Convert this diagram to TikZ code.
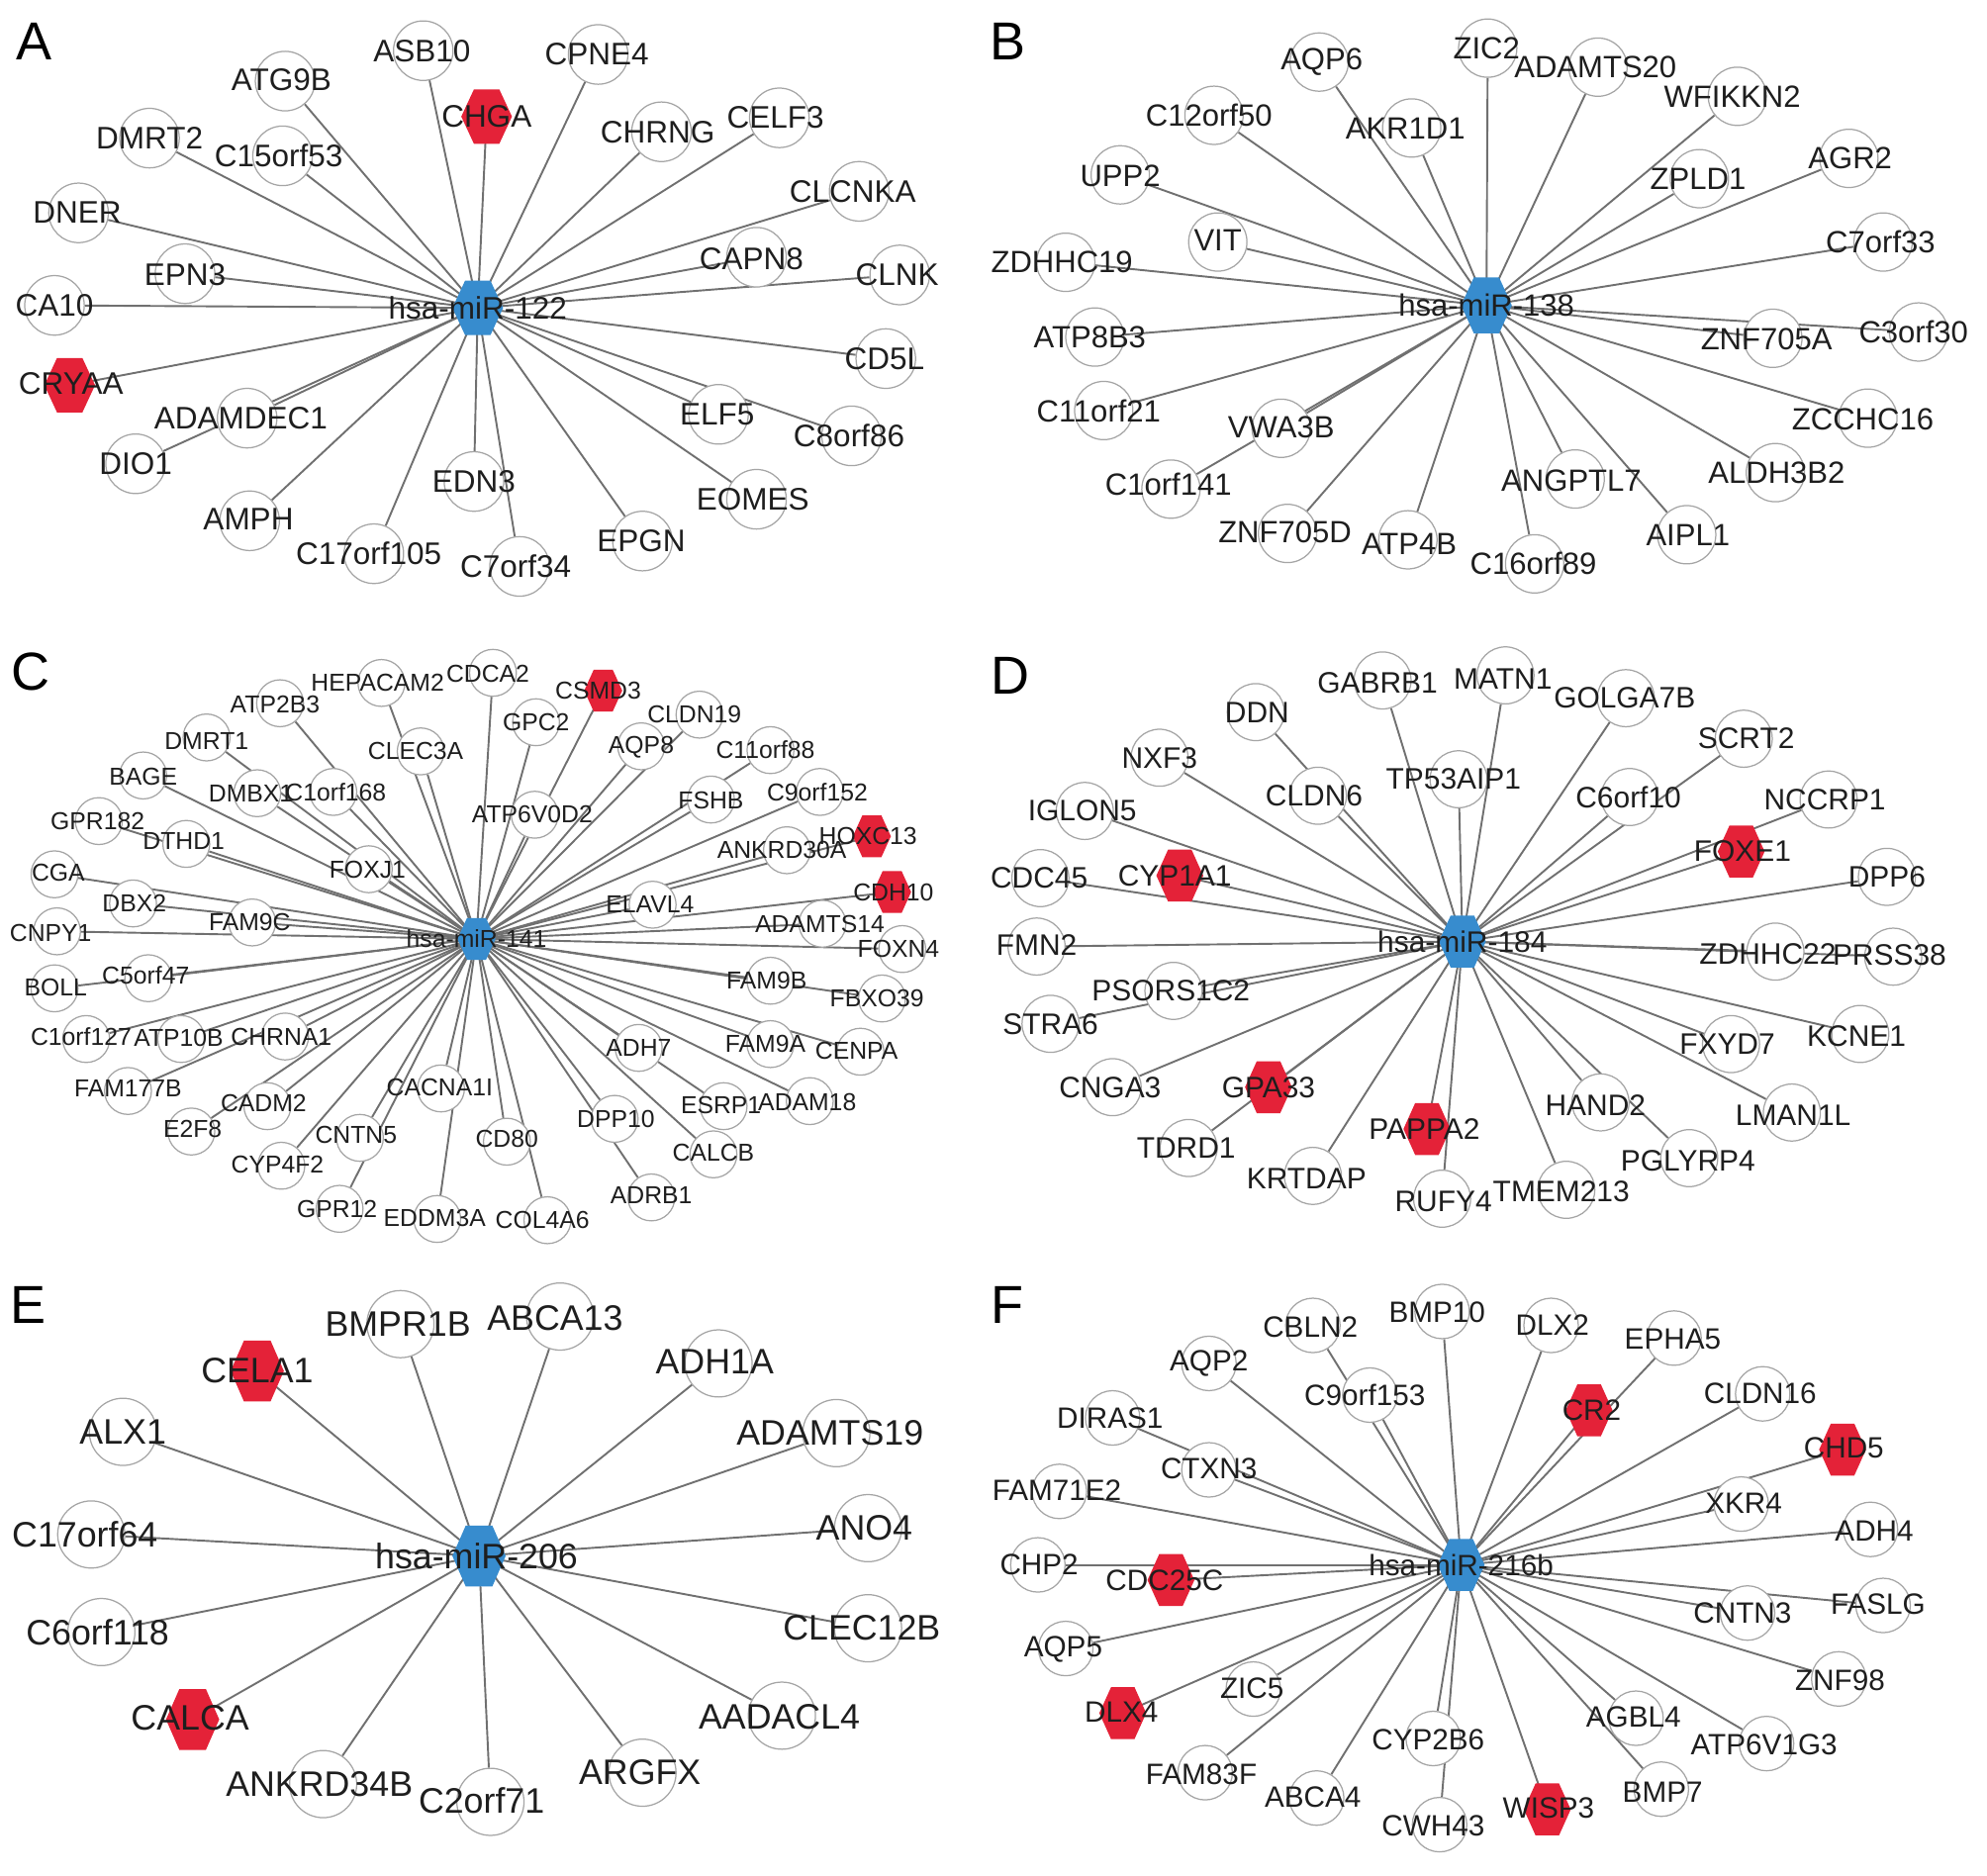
\documentclass[tikz,border=0pt]{standalone}
\usepackage{fontspec}
\setmainfont{Liberation Sans}
\pgfdeclarelayer{bg}
\pgfdeclarelayer{fg}
\pgfsetlayers{bg,main,fg}
\definecolor{hblue}{RGB}{55,140,206}
\definecolor{hred}{RGB}{228,34,56}
\definecolor{edgec}{RGB}{112,112,112}
\definecolor{ringc}{RGB}{165,165,165}
\definecolor{txtc}{RGB}{30,30,30}
\tikzset{
  gcirc/.style={circle, draw=ringc, fill=white, line width=0.55pt, inner sep=0pt},
  glab/.style={text=txtc, inner sep=0pt},
  edge/.style={draw=edgec, line width=0.85pt},
  plet/.style={font=\fontsize{24}{24}\selectfont, text=black, inner sep=0pt}
}
\newcommand\leaf[6]{%
  \node[gcirc] (#1) at (#2,#3) {};
  \begin{pgfonlayer}{fg}\node[glab] (#1-l) at (#4,#5) {#6};\end{pgfonlayer}}
\newcommand\hexat[7]{%
  \coordinate (#1) at (#2,#3);
  \fill[#7] (#1) ++(-\hw/2,0) -- ++(\hw/4,-\hh/2) -- ++(\hw/2,0) -- ++(\hw/4,\hh/2) -- ++(-\hw/4,\hh/2) -- ++(-\hw/2,0) -- cycle;
  \begin{pgfonlayer}{fg}\node[glab] (#1-l) at (#4,#5) {#6};\end{pgfonlayer}}
\begin{document}
\begin{tikzpicture}[x=0.02cm, y=-0.02cm]
\begin{pgfonlayer}{bg}
\fill[white] (0,0) rectangle (1568,1480);
\end{pgfonlayer}
\useasboundingbox (0,0) rectangle (1568,1480);
% panel letters
\node[plet] (LA) at (27,33) {A};
\node[plet] (LB) at (795,33) {B};
\node[plet] (LC) at (24,530) {C};
\node[plet] (LD) at (797,533) {D};
\node[plet] (LE) at (22,1030) {E};
\node[plet] (LF) at (795,1030) {F};
% ---------------- Panel A
\begin{scope}[gcirc/.append style={minimum size=0.94cm}, glab/.append style={font=\fontsize{14}{14}\selectfont}]
\def\hw{40}\def\hh{43}
\hexat{ac}{377}{243}{377}{243}{hsa-miR-122}{hblue}
\leaf{a1}{334}{40}{333}{40}{ASB10}
\leaf{a2}{472}{43}{471}{43}{CPNE4}
\leaf{a3}{225}{64}{222}{63}{ATG9B}
\hexat{a4}{384}{92}{384}{92}{CHGA}{hred}
\leaf{a5}{118}{109}{118}{109}{DMRT2}
\leaf{a6}{223}{123}{220}{123}{C15orf53}
\leaf{a7}{522}{104}{519}{104}{CHRNG}
\leaf{a8}{615}{93}{612}{93}{CELF3}
\leaf{a9}{678}{151}{673}{151}{CLCNKA}
\leaf{a10}{62}{168}{61}{168}{DNER}
\leaf{a11}{597}{203}{593}{204}{CAPN8}
\leaf{a12}{146}{216}{146}{217}{EPN3}
\leaf{a13}{710}{217}{708}{217}{CLNK}
\leaf{a14}{43}{241}{43}{241}{CA10}
\leaf{a15}{699}{283}{698}{283}{CD5L}
\hexat{a16}{55}{304}{56}{303}{CRYAA}{hred}
\leaf{a17}{195}{330}{190}{330}{ADAMDEC1}
\leaf{a18}{567}{327}{566}{327}{ELF5}
\leaf{a19}{672}{344}{670}{344}{C8orf86}
\leaf{a20}{107}{366}{107}{366}{DIO1}
\leaf{a21}{374}{380}{374}{380}{EDN3}
\leaf{a22}{597}{394}{594}{394}{EOMES}
\leaf{a23}{197}{411}{196}{410}{AMPH}
\leaf{a24}{507}{427}{506}{427}{EPGN}
\leaf{a25}{295}{437}{291}{437}{C17orf105}
\leaf{a26}{410}{447}{407}{447}{C7orf34}
\begin{pgfonlayer}{bg}\foreach \i in {1,...,26} \draw[edge] (ac) -- (a\i);\end{pgfonlayer}
\end{scope}
% ---------------- Panel B
\begin{scope}[gcirc/.append style={minimum size=0.92cm}, glab/.append style={font=\fontsize{13.8}{13.8}\selectfont}]
\def\hw{40}\def\hh{44}
\hexat{bc}{1173}{241}{1173}{241}{hsa-miR-138}{hblue}
\leaf{b1}{1174}{38}{1173}{38}{ZIC2}
\leaf{b2}{1041}{49}{1043}{49}{AQP6}
\leaf{b3}{1261}{53}{1259}{53}{ADAMTS20}
\leaf{b4}{1371}{76}{1367}{76}{WFIKKN2}
\leaf{b5}{958}{91}{954}{91}{C12orf50}
\leaf{b6}{1114}{101}{1109}{101}{AKR1D1}
\leaf{b7}{1459}{125}{1460}{125}{AGR2}
\leaf{b8}{884}{138}{884}{139}{UPP2}
\leaf{b9}{1341}{141}{1340}{141}{ZPLD1}
\leaf{b10}{961}{191}{961}{190}{VIT}
\leaf{b11}{1486}{191}{1484}{191}{C7orf33}
\leaf{b12}{841}{207}{838}{207}{ZDHHC19}
\leaf{b13}{864}{266}{860}{266}{ATP8B3}
\leaf{b14}{1399}{267}{1394}{268}{ZNF705A}
\leaf{b15}{1514}{262}{1510}{262}{C3orf30}
\leaf{b16}{871}{324}{867}{324}{C11orf21}
\leaf{b17}{1474}{330}{1470}{331}{ZCCHC16}
\leaf{b18}{1011}{338}{1011}{337}{VWA3B}
\leaf{b19}{924}{386}{922}{382}{C1orf141}
\leaf{b20}{1401}{373}{1402}{373}{ALDH3B2}
\leaf{b21}{1243}{378}{1240}{379}{ANGPTL7}
\leaf{b22}{1331}{422}{1332}{422}{AIPL1}
\leaf{b23}{1016}{421}{1014}{420}{ZNF705D}
\leaf{b24}{1111}{426}{1112}{429}{ATP4B}
\leaf{b25}{1211}{445}{1210}{445}{C16orf89}
\begin{pgfonlayer}{bg}\foreach \i in {1,...,25} \draw[edge] (bc) -- (b\i);\end{pgfonlayer}
\end{scope}
% ---------------- Panel C
\begin{scope}[gcirc/.append style={minimum size=0.74cm}, glab/.append style={font=\fontsize{11}{11}\selectfont}]
\def\hw{30}\def\hh{33}
\hexat{cc}{376}{741}{376}{741}{hsa-miR-141}{hblue}
\leaf{c1}{301}{539}{298}{539}{HEPACAM2}
\leaf{c2}{389}{531}{385}{532}{CDCA2}
\hexat{c3}{476}{545}{472}{545}{CSMD3}{hred}
\leaf{c4}{221}{555}{217}{556}{ATP2B3}
\leaf{c5}{423}{570}{423}{570}{GPC2}
\leaf{c6}{552}{564}{548}{564}{CLDN19}
\leaf{c7}{163}{582}{163}{585}{DMRT1}
\leaf{c8}{332}{593}{328}{593}{CLEC3A}
\leaf{c9}{506}{589}{506}{590}{AQP8}
\leaf{c10}{608}{592}{604}{592}{C11orf88}
\leaf{c11}{113}{612}{113}{613}{BAGE}
\leaf{c12}{203}{626}{198}{626}{DMBX1}
\leaf{c13}{263}{625}{265}{625}{C1orf168}
\leaf{c14}{647}{625}{645}{625}{C9orf152}
\leaf{c15}{422}{643}{420}{643}{ATP6V0D2}
\leaf{c16}{561}{631}{561}{632}{FSHB}
\leaf{c17}{78}{648}{77}{648}{GPR182}
\hexat{c18}{688}{660}{685}{660}{HOXC13}{hred}
\leaf{c19}{147}{666}{145}{664}{DTHD1}
\leaf{c20}{621}{671}{617}{671}{ANKRD30A}
\leaf{c21}{291}{686}{290}{686}{FOXJ1}
\leaf{c22}{43}{690}{46}{689}{CGA}
\hexat{c23}{704}{704}{705}{704}{CDH10}{hred}
\leaf{c24}{105}{713}{106}{713}{DBX2}
\leaf{c25}{515}{714}{513}{714}{ELAVL4}
\leaf{c26}{199}{728}{197}{728}{FAM9C}
\leaf{c27}{649}{729}{647}{729}{ADAMTS14}
\leaf{c28}{45}{735}{40}{736}{CNPY1}
\leaf{c29}{712}{749}{709}{749}{FOXN4}
\leaf{c30}{117}{772}{115}{770}{C5orf47}
\leaf{c31}{43}{780}{44}{779}{BOLL}
\leaf{c32}{608}{774}{605}{774}{FAM9B}
\leaf{c33}{696}{788}{692}{788}{FBXO39}
\leaf{c34}{68}{820}{64}{818}{C1orf127}
\leaf{c35}{143}{820}{141}{819}{ATP10B}
\leaf{c36}{225}{818}{222}{818}{CHRNA1}
\leaf{c37}{608}{824}{604}{824}{FAM9A}
\leaf{c38}{679}{830}{676}{829}{CENPA}
\leaf{c39}{504}{827}{504}{827}{ADH7}
\leaf{c40}{101}{861}{101}{859}{FAM177B}
\leaf{c41}{348}{859}{347}{858}{CACNA1I}
\leaf{c42}{211}{873}{208}{871}{CADM2}
\leaf{c43}{571}{873}{569}{872}{ESRP1}
\leaf{c44}{639}{869}{637}{870}{ADAM18}
\leaf{c45}{151}{893}{152}{891}{E2F8}
\leaf{c46}{284}{898}{281}{896}{CNTN5}
\leaf{c47}{485}{883}{486}{883}{DPP10}
\leaf{c48}{400}{901}{400}{899}{CD80}
\leaf{c49}{563}{911}{563}{910}{CALCB}
\leaf{c50}{222}{920}{219}{919}{CYP4F2}
\leaf{c51}{514}{945}{514}{943}{ADRB1}
\leaf{c52}{268}{954}{266}{954}{GPR12}
\leaf{c53}{345}{962}{343}{961}{EDDM3A}
\leaf{c54}{432}{963}{428}{963}{COL4A6}
\begin{pgfonlayer}{bg}\foreach \i in {1,...,54} \draw[edge] (cc) -- (c\i);\end{pgfonlayer}
\end{scope}
% ---------------- Panel D
\begin{scope}[gcirc/.append style={minimum size=0.90cm}, glab/.append style={font=\fontsize{13.3}{13.3}\selectfont}]
\def\hw{37}\def\hh{41}
\hexat{dc}{1154}{743}{1154}{743}{hsa-miR-184}{hblue}
\leaf{d1}{1091}{537}{1087}{539}{GABRB1}
\leaf{d2}{1188}{533}{1186}{536}{MATN1}
\leaf{d3}{1283}{551}{1282}{551}{GOLGA7B}
\leaf{d4}{991}{562}{992}{562}{DDN}
\leaf{d5}{1376}{583}{1378}{583}{SCRT2}
\leaf{d6}{915}{598}{915}{598}{NXF3}
\leaf{d7}{1151}{615}{1147}{615}{TP53AIP1}
\leaf{d8}{1040}{628}{1037}{628}{CLDN6}
\leaf{d9}{1286}{629}{1285}{629}{C6orf10}
\leaf{d10}{1443}{631}{1440}{631}{NCCRP1}
\leaf{d11}{856}{640}{854}{640}{IGLON5}
\hexat{d12}{1374}{672}{1375}{672}{FOXE1}{hred}
\hexat{d13}{931}{691}{927}{691}{CYP1A1}{hred}
\leaf{d14}{821}{693}{820}{693}{CDC45}
\leaf{d15}{1489}{692}{1489}{692}{DPP6}
\leaf{d16}{818}{747}{818}{746}{FMN2}
\leaf{d17}{1401}{751}{1395}{753}{ZDHHC22}
\leaf{d18}{1494}{755}{1491}{754}{PRSS38}
\leaf{d19}{926}{782}{924}{782}{PSORS1C2}
\leaf{d20}{829}{808}{829}{808}{STRA6}
\leaf{d21}{1366}{824}{1363}{824}{FXYD7}
\leaf{d22}{1468}{816}{1465}{818}{KCNE1}
\leaf{d23}{878}{858}{876}{858}{CNGA3}
\hexat{d24}{1001}{858}{1001}{858}{GPA33}{hred}
\leaf{d25}{1263}{870}{1259}{872}{HAND2}
\leaf{d26}{1414}{878}{1415}{880}{LMAN1L}
\hexat{d27}{1126}{891}{1124}{891}{PAPPA2}{hred}
\leaf{d28}{938}{906}{936}{906}{TDRD1}
\leaf{d29}{1333}{914}{1332}{916}{PGLYRP4}
\leaf{d30}{1036}{928}{1031}{930}{KRTDAP}
\leaf{d31}{1138}{946}{1139}{948}{RUFY4}
\leaf{d32}{1236}{939}{1232}{940}{TMEM213}
\begin{pgfonlayer}{bg}\foreach \i in {1,...,32} \draw[edge] (dc) -- (d\i);\end{pgfonlayer}
\end{scope}
% ---------------- Panel E
\begin{scope}[gcirc/.append style={minimum size=1.06cm}, glab/.append style={font=\fontsize{15.9}{15.9}\selectfont}]
\def\hw{42}\def\hh{48}
\hexat{ec}{378}{1228}{376}{1228}{hsa-miR-206}{hblue}
\leaf{e1}{316}{1045}{314}{1045}{BMPR1B}
\leaf{e2}{442}{1039}{438}{1040}{ABCA13}
\hexat{e3}{203}{1082}{203}{1082}{CELA1}{hred}
\leaf{e4}{567}{1076}{564}{1075}{ADH1A}
\leaf{e5}{97}{1130}{97}{1130}{ALX1}
\leaf{e6}{660}{1131}{655}{1131}{ADAMTS19}
\leaf{e7}{72}{1211}{67}{1211}{C17orf64}
\leaf{e8}{685}{1206}{682}{1206}{ANO4}
\leaf{e9}{80}{1288}{77}{1288}{C6orf118}
\leaf{e10}{685}{1285}{680}{1285}{CLEC12B}
\hexat{e11}{152}{1357}{150}{1356}{CALCA}{hred}
\leaf{e12}{617}{1354}{615}{1355}{AADACL4}
\leaf{e13}{507}{1399}{505}{1399}{ARGFX}
\leaf{e14}{255}{1408}{252}{1408}{ANKRD34B}
\leaf{e15}{387}{1422}{380}{1421}{C2orf71}
\begin{pgfonlayer}{bg}\foreach \i in {1,...,15} \draw[edge] (ec) -- (e\i);\end{pgfonlayer}
\end{scope}
% ---------------- Panel F
\begin{scope}[gcirc/.append style={minimum size=0.86cm}, glab/.append style={font=\fontsize{13.2}{13.2}\selectfont}]
\def\hw{37}\def\hh{41}
\hexat{fc}{1153}{1235}{1153}{1235}{hsa-miR-216b}{hblue}
\leaf{f1}{1138}{1035}{1134}{1036}{BMP10}
\leaf{f2}{1036}{1046}{1034}{1047}{CBLN2}
\leaf{f3}{1224}{1046}{1225}{1046}{DLX2}
\leaf{f4}{1321}{1056}{1320}{1057}{EPHA5}
\leaf{f5}{954}{1076}{954}{1076}{AQP2}
\leaf{f6}{1081}{1101}{1077}{1101}{C9orf153}
\hexat{f7}{1254}{1113}{1256}{1113}{CR2}{hred}
\leaf{f8}{1391}{1100}{1389}{1100}{CLDN16}
\leaf{f9}{878}{1119}{876}{1119}{DIRAS1}
\hexat{f10}{1454}{1144}{1455}{1143}{CHD5}{hred}
\leaf{f11}{954}{1160}{954}{1159}{CTXN3}
\leaf{f12}{836}{1177}{834}{1176}{FAM71E2}
\leaf{f13}{1374}{1187}{1376}{1186}{XKR4}
\leaf{f14}{1476}{1207}{1479}{1208}{ADH4}
\leaf{f15}{819}{1235}{820}{1235}{CHP2}
\hexat{f16}{924}{1247}{919}{1247}{CDC25C}{hred}
\leaf{f17}{1379}{1273}{1375}{1273}{CNTN3}
\leaf{f18}{1486}{1267}{1482}{1266}{FASLG}
\leaf{f19}{841}{1301}{839}{1302}{AQP5}
\leaf{f20}{1451}{1325}{1452}{1326}{ZNF98}
\leaf{f21}{989}{1333}{988}{1332}{ZIC5}
\hexat{f22}{886}{1352}{885}{1351}{DLX4}{hred}
\leaf{f23}{1291}{1356}{1289}{1355}{AGBL4}
\leaf{f24}{1131}{1372}{1127}{1373}{CYP2B6}
\leaf{f25}{1394}{1376}{1392}{1377}{ATP6V1G3}
\leaf{f26}{951}{1399}{948}{1400}{FAM83F}
\leaf{f27}{1311}{1412}{1312}{1414}{BMP7}
\leaf{f28}{1039}{1419}{1036}{1418}{ABCA4}
\hexat{f29}{1221}{1428}{1222}{1427}{WISP3}{hred}
\leaf{f30}{1136}{1440}{1131}{1441}{CWH43}
\begin{pgfonlayer}{bg}\foreach \i in {1,...,30} \draw[edge] (fc) -- (f\i);\end{pgfonlayer}
\end{scope}
\end{tikzpicture}
\end{document}
